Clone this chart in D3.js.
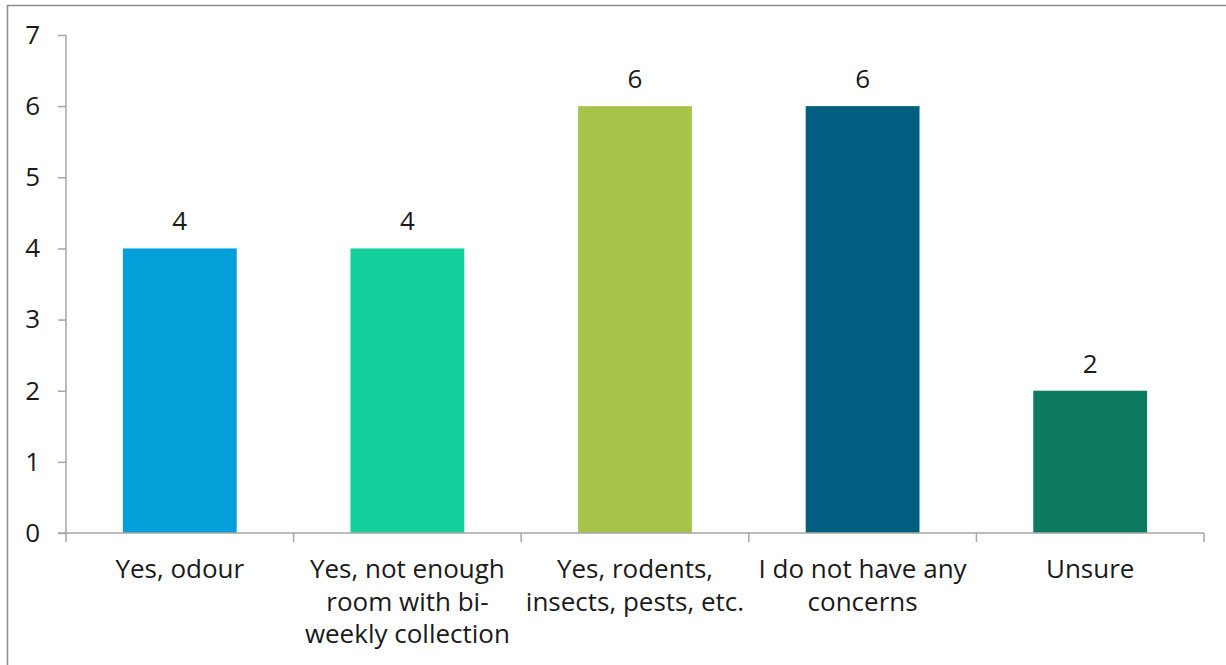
<!DOCTYPE html>
<html>
<head>
<meta charset="utf-8">
<script src="https://cdn.jsdelivr.net/npm/d3@7"></script>
<style>
  html, body { margin: 0; padding: 0; background: #fff; }
  svg { display: block; }
  text { font-family: "Open Sans", Lato, sans-serif; fill: #1a1a1a; }
</style>
</head>
<body>
<svg id="chart" width="1226" height="665"></svg>
<script>
const categories = [
  "Yes, odour",
  "Yes, not enough\nroom with bi-\nweekly collection",
  "Yes, rodents,\ninsects, pests, etc.",
  "I do not have any\nconcerns",
  "Unsure"
];
const values = [4, 4, 6, 6, 2];
const colors = ["#039fd9", "#12cf9b", "#a8c34a", "#025e80", "#0d7a5f"];
const yTicks = [0, 1, 2, 3, 4, 5, 6, 7];

(function () {
const W = 1226, H = 665;
const svg = d3.select("#chart");
const fontFam = "'Open Sans', Lato, sans-serif";

// outer border
svg.append("rect")
  .attr("x", 7.5).attr("y", 5.5)
  .attr("width", W + 10).attr("height", H + 10)
  .attr("fill", "none").attr("stroke", "#8c8c8c").attr("stroke-width", 1.5);

const pLeft = 66, pRight = 1204, pTop = 35, pBottom = 533;

const x = d3.scaleBand().domain(categories).range([pLeft, pRight])
  .paddingInner(0.5).paddingOuter(0.25);
const y = d3.scaleLinear().domain([0, 7]).range([pBottom, pTop]);

const axisColor = "#a6a6a6";
const fontSize = 26;

// y axis
const yAxis = svg.append("g").attr("transform", `translate(${pLeft},0)`)
  .call(d3.axisLeft(y).tickValues(yTicks).tickFormat(d3.format("d")).tickSize(8).tickPadding(18));
yAxis.select(".domain").attr("stroke", axisColor).attr("stroke-width", 1.5).attr("d", `M0,${pTop}V${pBottom}`);
yAxis.selectAll(".tick line").attr("stroke", axisColor).attr("stroke-width", 1.5);
yAxis.selectAll(".tick text").style("font-size", fontSize + "px").attr("fill", "#1a1a1a")
  .style("font-family", fontFam);

// bars
svg.append("g").selectAll("rect").data(values).join("rect")
  .attr("x", (d, i) => x(categories[i]))
  .attr("y", d => y(d))
  .attr("width", x.bandwidth())
  .attr("height", d => y(0) - y(d))
  .attr("fill", (d, i) => colors[i]);

// x axis line
const step = x.step();
svg.append("line")
  .attr("x1", pLeft - 8).attr("x2", pRight)
  .attr("y1", pBottom).attr("y2", pBottom)
  .attr("stroke", axisColor).attr("stroke-width", 1.5);
svg.append("g").selectAll("line").data(d3.range(categories.length + 1)).join("line")
  .attr("x1", i => pLeft + i * step).attr("x2", i => pLeft + i * step)
  .attr("y1", pBottom).attr("y2", pBottom + 9)
  .attr("stroke", axisColor).attr("stroke-width", 1.5);

// value labels
svg.append("g").selectAll("text").data(values).join("text")
  .attr("x", (d, i) => x(categories[i]) + x.bandwidth() / 2)
  .attr("y", d => y(d) - 18)
  .attr("text-anchor", "middle")
  .style("font-size", fontSize + "px")
  .text(d => d);

// category labels
const lineH = 32.5;
const cl = svg.append("g").selectAll("text").data(categories).join("text")
  .attr("x", d => x(d) + x.bandwidth() / 2)
  .attr("y", 578)
  .attr("text-anchor", "middle")
  .style("font-size", fontSize + "px");
cl.each(function(d) {
  const t = d3.select(this);
  const cx = x(d) + x.bandwidth() / 2;
  d.split("\n").forEach((line, k) => {
    t.append("tspan").attr("x", cx).attr("dy", k === 0 ? 0 : lineH).text(line);
  });
});
})();
</script>
</body>
</html>
